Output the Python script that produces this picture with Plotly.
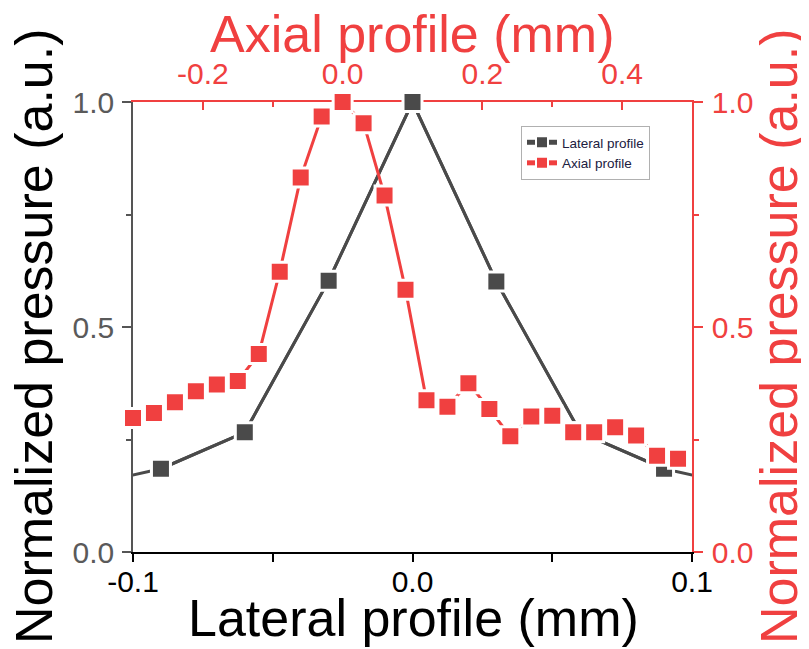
import plotly.graph_objects as go

# ---- data ----
lateral_x = [-0.12, -0.09, -0.06, -0.03, 0.0, 0.03, 0.06, 0.09, 0.12]
lateral_y = [0.143, 0.185, 0.266, 0.603, 1.0, 0.601, 0.266, 0.185, 0.143]

axial_x = [-0.30, -0.27, -0.24, -0.21, -0.18, -0.15, -0.12, -0.09, -0.06, -0.03,
           0.00, 0.03, 0.06, 0.09, 0.12, 0.15, 0.18, 0.21, 0.24, 0.27,
           0.30, 0.33, 0.36, 0.39, 0.42, 0.45, 0.48]
axial_y = [0.298, 0.309, 0.333, 0.357, 0.372, 0.380, 0.440, 0.623, 0.832, 0.968,
           1.000, 0.953, 0.792, 0.583, 0.337, 0.323, 0.375, 0.318, 0.257, 0.301,
           0.303, 0.266, 0.266, 0.277, 0.259, 0.214, 0.207]

bottom_ticks = [-0.1, 0.0, 0.1]
bottom_labels = ["-0.1", "0.0", "0.1"]
top_ticks = [-0.2, 0.0, 0.2, 0.4]
top_labels = ["-0.2", "0.0", "0.2", "0.4"]
y_ticks = [0.0, 0.5, 1.0]
y_labels = ["0.0", "0.5", "1.0"]

GRAY = "#4a4a4a"
RED = "#f04040"
FONT = "Liberation Sans, Arial, sans-serif"

OFF = 8  # default page body margin
W, H = 809 - OFF, 649 - OFF
ML, MR, MT, MB = 133 - OFF, 117, 102 - OFF, 97
PW, PH = W - ML - MR, H - MT - MB

def px_x(p):  # page pixel -> paper x
    return (p - OFF - ML) / PW

def px_y(p):  # page pixel -> paper y
    return (OFF + H - MB - p) / PH

# markers only for points within the lateral axis range
in_x = [x for x in lateral_x if -0.1 <= x <= 0.1]
in_y = [y for x, y in zip(lateral_x, lateral_y) if -0.1 <= x <= 0.1]

fig = go.Figure()
fig.add_trace(go.Scatter(x=lateral_x, y=lateral_y, mode="lines",
                         line=dict(color=GRAY, width=3), showlegend=False,
                         hoverinfo="skip"))
fig.add_trace(go.Scatter(x=in_x, y=in_y, mode="lines+markers", name="Lateral profile",
                         line=dict(color=GRAY, width=3),
                         marker=dict(symbol="square", size=19, color=GRAY,
                                     line=dict(color="white", width=3)),
                         cliponaxis=False))
fig.add_trace(go.Scatter(x=axial_x, y=axial_y, mode="lines+markers", name="Axial profile",
                         xaxis="x2", yaxis="y2",
                         line=dict(color=RED, width=3),
                         marker=dict(symbol="square", size=19, color=RED,
                                     line=dict(color="white", width=3)),
                         cliponaxis=False))

title_font = 52
annotations = [
    dict(text="Lateral profile (mm)", x=px_x(413), y=px_y(618), xref="paper", yref="paper",
         xanchor="center", yanchor="middle", showarrow=False,
         font=dict(size=title_font, color="black", family=FONT)),
    dict(text="Axial profile (mm)", x=px_x(412), y=px_y(34), xref="paper", yref="paper",
         xanchor="center", yanchor="middle", showarrow=False,
         font=dict(size=title_font, color=RED, family=FONT)),
    dict(text="Normalized pressure (a.u.)", x=px_x(34), y=px_y(336), xref="paper", yref="paper",
         xanchor="center", yanchor="middle", showarrow=False, textangle=-90,
         font=dict(size=title_font, color="black", family=FONT)),
    dict(text="Normalized pressure (a.u.)", x=px_x(779), y=px_y(336), xref="paper", yref="paper",
         xanchor="center", yanchor="middle", showarrow=False, textangle=-90,
         font=dict(size=title_font, color=RED, family=FONT)),
]

fig.update_layout(
    width=W, height=H,
    margin=dict(l=ML, r=MR, t=MT, b=MB),
    paper_bgcolor="white", plot_bgcolor="white",
    font=dict(family=FONT),
    showlegend=True,
    annotations=annotations,
    legend=dict(x=px_x(521), y=px_y(126), xanchor="left", yanchor="top",
                bgcolor="white", bordercolor="#b0b0b0", borderwidth=1,
                font=dict(size=13.5, color="#202040", family=FONT),
                itemsizing="constant", tracegroupgap=0),
    xaxis=dict(range=[-0.1, 0.1], tickvals=bottom_ticks, ticktext=bottom_labels,
               showline=True, linecolor="black", linewidth=1.5, mirror=False,
               ticks="outside", ticklen=8, tickwidth=1.5, tickcolor="black",
               minor=dict(tickvals=[-0.05, 0.05], ticks="outside", ticklen=8,
                          tickwidth=1.5, tickcolor="black"),
               tickfont=dict(size=30, color="black"), ticklabelstandoff=-6,
               showgrid=False, zeroline=False, layer="below traces", automargin=False),
    xaxis2=dict(range=[-0.3, 0.5], overlaying="x", side="top", anchor="y",
                tickvals=top_ticks, ticktext=top_labels,
                showline=True, linecolor=RED, linewidth=1.5,
                ticks="inside", ticklen=8, tickwidth=1.5, tickcolor=RED,
                minor=dict(tickvals=[-0.1, 0.1, 0.3], ticks="inside", ticklen=5,
                           tickwidth=1.5, tickcolor=RED),
                tickfont=dict(size=30, color=RED), ticklabelstandoff=4,
                showgrid=False, zeroline=False, layer="below traces", automargin=False),
    yaxis=dict(range=[0, 1], tickvals=y_ticks, ticktext=y_labels,
               showline=True, linecolor="#555555", linewidth=1.5,
               ticks="outside", ticklen=9, tickwidth=1.5, tickcolor="#555555",
               minor=dict(tickvals=[0.25, 0.75], ticks="outside", ticklen=5,
                          tickwidth=1.5, tickcolor="#555555"),
               tickfont=dict(size=30, color="#5a5a5a"), ticklabelstandoff=2,
               showgrid=False, zeroline=False, layer="below traces", automargin=False),
    yaxis2=dict(range=[0, 1], overlaying="y", side="right", anchor="x",
                tickvals=y_ticks, ticktext=y_labels,
                showline=True, linecolor=RED, linewidth=1.5,
                ticks="outside", ticklen=9, tickwidth=1.5, tickcolor=RED,
                minor=dict(tickvals=[0.25, 0.75], ticks="outside", ticklen=5,
                           tickwidth=1.5, tickcolor=RED),
                tickfont=dict(size=30, color=RED), ticklabelstandoff=3,
                showgrid=False, zeroline=False, layer="below traces", automargin=False),
)

fig.write_html("out.html")
